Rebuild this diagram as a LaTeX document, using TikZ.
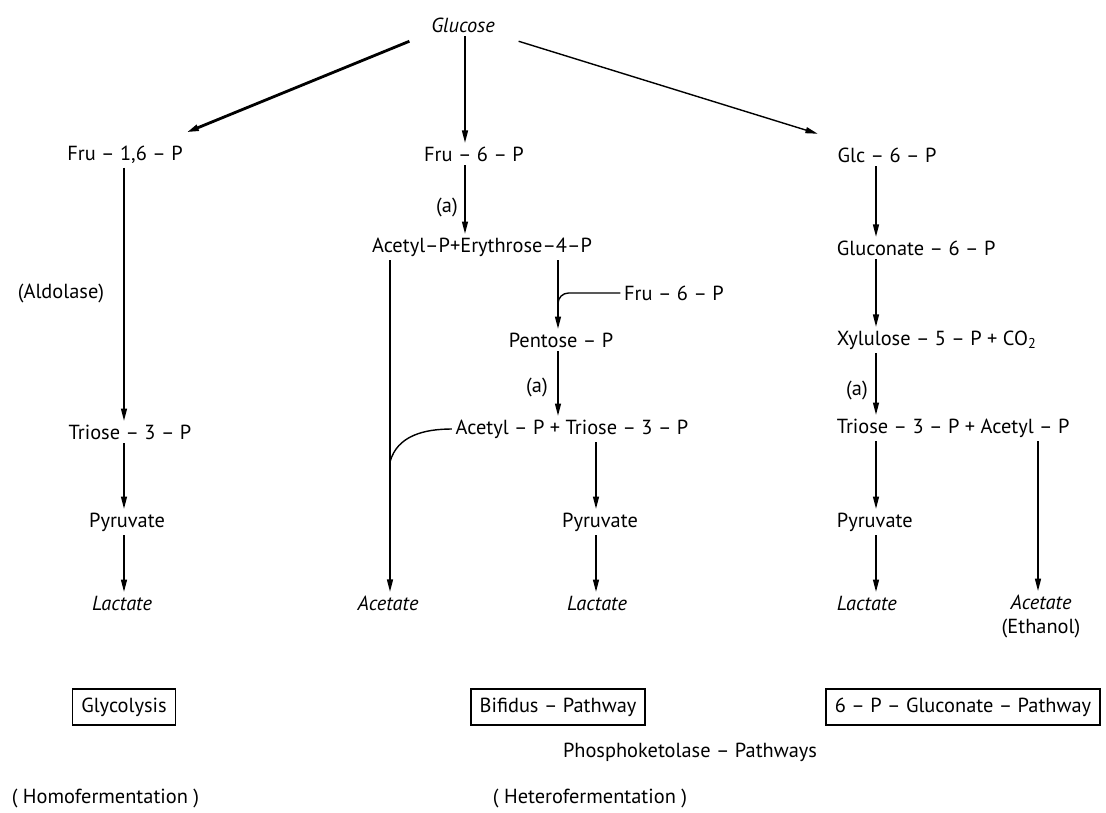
\documentclass[tikz,border=0pt]{standalone}
\usepackage{fontspec}
\setmainfont{PT Sans}
\usetikzlibrary{arrows.meta}

\begin{document}
\begin{tikzpicture}[x=0.02cm,y=-0.02cm,font=\fontsize{11.6}{14}\selectfont,
        every node/.style={inner sep=2pt},
        flow/.style={-{Triangle[length=7pt,width=3.4pt]},line width=0.8pt},
        pathbox/.style={draw,line width=0.9pt,inner sep=5pt}]
    \useasboundingbox (0,0) rectangle (1106,812);

    %metabolites:
    \foreach \x/\y/\n/\l in {463/25/gluc/\textit{Glucose},125/155/fru16/{Fru -- 1,6 -- P},474/154/fru6/Fru -- 6 -- P,887/155/glc6/Glc -- 6 -- P,
        130/432/tri1/Triose -- 3 -- P,127/522/pyr1/Pyruvate,122/603/lac1/\textit{Lactate},
        482/247/acE4P/Acetyl--P+Erythrose--4--P,674/293/fru6b/Fru -- 6 -- P,561/340/pent/Pentose -- P,
        572/429/acT3/Acetyl -- P + Triose -- 3 -- P,600/522/pyr2/Pyruvate,388/603/ace2/\textit{Acetate},597/603/lac2/\textit{Lactate}}{
        \node[] (\n) at (\x,\y) {\l};
    }
    %right column is left aligned
    \foreach \y/\n/\l in {248/glcn6/Gluconate -- 6 -- P,340/xyl/Xylulose -- 5 -- P + CO\textsubscript{2},428/tri3/Triose -- 3 -- P + Acetyl -- P,
        522/pyr3/Pyruvate,603/lac3/\textit{Lactate}}{
        \node[anchor=west] (\n) at (833,\y) {\l};
    }
    \node[align=center,anchor=north] (ace3) at (1041,591) {\textit{Acetate}\\(Ethanol)};

    %labels:
    \foreach \x/\y/\n/\l in {447/207/a1/(a),537/387/a2/(a),857/390/a3/(a),61/293/ald/(Aldolase),
        690/752/phk/Phosphoketolase -- Pathways,590/798/hetero/( Heterofermentation )}{
        \node[] (\n) at (\x,\y) {\l};
    }
    \node[anchor=west] (homo) at (8,798) {( Homofermentation )};
    \foreach \x/\y/\n/\l in {124/707/glyc/Glycolysis,558/707/bif/Bifidus -- Pathway,963/707/gcp/6 -- P -- Gluconate -- Pathway}{
        \node[pathbox] (\n) at (\x,\y) {\l};
    }

    %arrows:
    \foreach \c/\x in {c1/124,c2/465,c3/558,c4/390,c5/596,c6/876,c7/1038}{
        \coordinate (\c) at (\x,0);
    }
    \foreach \m/\n/\c in {fru16/tri1/c1,tri1/pyr1/c1,pyr1/lac1/c1,gluc/fru6/c2,fru6/acE4P/c2,acE4P/pent/c3,pent/acT3/c3,
        acE4P/ace2/c4,acT3/pyr2/c5,pyr2/lac2/c5,glc6/glcn6/c6,glcn6/xyl/c6,xyl/tri3/c6,tri3/pyr3/c6,pyr3/lac3/c6,tri3/ace3/c7}{
        \draw[flow] (\m.south -| \c) -- (\n.north -| \c);
    }
    \draw[flow,line width=1.6pt] ([shift={(-18,5)}]gluc.south west) -- ([shift={(0,-10)}]fru16.north east);
    \draw[flow] ([shift={(20,5)}]gluc.south east) -- ([shift={(-16,-10)}]glc6.north west);

    %side entries
    \coordinate (j1) at (558,308);
    \coordinate (j2) at (390,462);
    \draw[line width=0.8pt,rounded corners=6pt] (fru6b.west) -| (j1);
    \draw[line width=0.8pt] (acT3.west) to[out=180,in=75] (j2);
\end{tikzpicture}
\end{document}
